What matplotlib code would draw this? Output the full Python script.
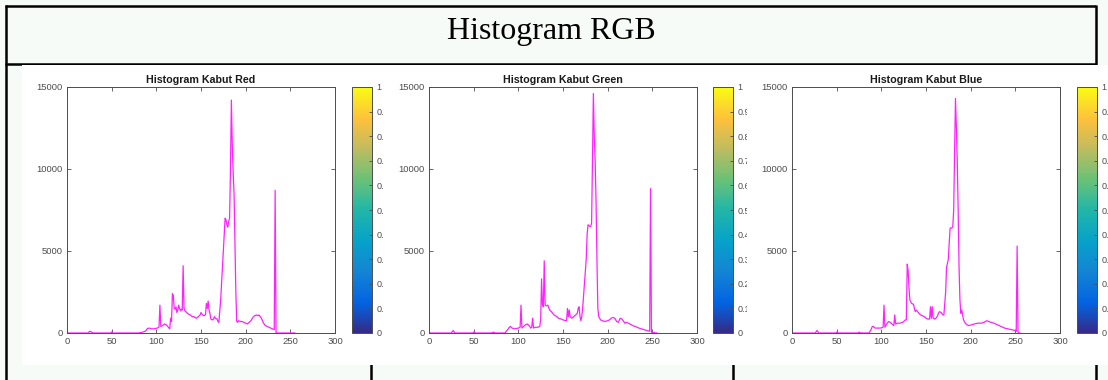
import numpy as np
import matplotlib
matplotlib.use("Agg")
import matplotlib.pyplot as plt
from matplotlib.colors import LinearSegmentedColormap, Normalize
from matplotlib.cm import ScalarMappable
from matplotlib.patches import Rectangle
from matplotlib.lines import Line2D

# histogram values (bin, count)
red_bins = [0, 24, 25, 27, 29, 49, 50, 51, 80, 84, 88, 90, 92, 95, 98, 101, 103, 104, 105, 107, 109, 111, 113, 115,
            116, 117, 118, 119, 120, 121, 122, 123, 124, 125, 126, 127, 128, 129, 130, 131, 132, 134, 136, 138, 140,
            142, 143, 145, 147, 149, 150, 151, 153, 155, 156, 157, 158, 159, 160, 161, 163, 164, 165, 166, 168, 169,
            170, 172, 174, 176, 177, 178, 179, 180, 181, 182, 183, 184, 185, 186, 187, 188, 189, 190, 191, 192, 194,
            196, 198, 200, 202, 204, 206, 208, 210, 212, 214, 215, 217, 218, 220, 222, 224, 226, 228, 230, 232, 233,
            234, 255]
red_counts = [0, 0, 100, 80, 0, 0, 60, 0, 0, 40, 120, 270, 300, 250, 260, 300, 350, 1700, 400, 450, 550, 500, 380, 250,
              900, 700, 2400, 2300, 1500, 1450, 1600, 1250, 1400, 1700, 1500, 1350, 1450, 1400, 4100, 1500, 1350, 1250,
              1150, 1100, 1000, 1000, 950, 900, 1000, 1100, 1250, 1150, 1050, 1100, 1800, 1500, 1950, 1400, 1200, 850,
              800, 850, 1000, 900, 850, 700, 650, 2000, 4000, 6000, 7000, 6900, 6600, 6450, 6800, 7000, 10000, 14200,
              11500, 9800, 8500, 5500, 2500, 700, 650, 750, 700, 700, 650, 600, 550, 650, 750, 950, 1050, 1100, 1050,
              1100, 950, 850, 600, 450, 400, 350, 300, 250, 200, 8700, 0, 0]

green_bins = [0, 25, 27, 29, 49, 50, 52, 70, 72, 74, 85, 88, 90, 91, 93, 96, 100, 102, 103, 104, 106, 108, 110, 112,
              114, 115, 116, 117, 119, 122, 124, 125, 126, 127, 128, 129, 130, 131, 133, 135, 137, 140, 143, 145, 148,
              150, 153, 154, 155, 156, 157, 158, 160, 162, 164, 166, 167, 168, 169, 170, 171, 172, 174, 176, 177, 178,
              180, 181, 182, 183, 184, 185, 186, 187, 188, 189, 190, 192, 194, 197, 200, 202, 204, 206, 208, 210, 212,
              214, 216, 218, 219, 221, 223, 225, 228, 231, 235, 238, 241, 244, 247, 248, 249, 251, 252, 253, 255]
green_counts = [0, 0, 150, 0, 0, 50, 0, 0, 50, 0, 0, 200, 350, 400, 300, 250, 300, 350, 1700, 300, 400, 500, 550, 450,
                300, 350, 900, 300, 350, 350, 400, 800, 3300, 1700, 1600, 4400, 1700, 1650, 1700, 1400, 1300, 1100,
                1000, 900, 850, 800, 750, 750, 1500, 1000, 1400, 1000, 900, 1000, 1100, 1200, 1500, 1600, 1000, 750,
                1000, 1500, 3000, 4500, 6000, 6600, 6500, 6500, 6700, 10500, 14600, 12000, 10500, 8000, 4500, 1500,
                1000, 800, 750, 700, 750, 800, 900, 950, 900, 700, 650, 900, 850, 700, 600, 650, 600, 550, 450, 400,
                300, 250, 200, 150, 100, 8800, 50, 0, 50, 0, 0]

blue_bins = [0, 26, 28, 30, 49, 50, 52, 74, 75, 77, 86, 88, 90, 91, 93, 96, 99, 102, 103, 104, 106, 108, 110, 112, 114,
             115, 116, 118, 121, 124, 126, 127, 128, 129, 130, 131, 132, 134, 136, 137, 138, 139, 140, 142, 144, 146,
             148, 150, 152, 154, 155, 156, 157, 158, 160, 162, 164, 165, 167, 169, 170, 172, 173, 175, 176, 177, 179,
             180, 181, 182, 183, 184, 185, 186, 187, 188, 189, 190, 191, 192, 194, 196, 198, 201, 204, 208, 212, 215,
             218, 220, 223, 226, 230, 234, 238, 242, 246, 250, 251, 252, 253, 254, 255]
blue_counts = [0, 0, 150, 0, 0, 50, 0, 0, 50, 0, 0, 150, 400, 400, 300, 300, 300, 350, 1700, 350, 550, 700, 650, 550,
               450, 1100, 550, 600, 600, 650, 750, 800, 800, 4200, 3800, 2700, 2000, 1800, 1750, 1500, 1300, 1400, 1350,
               1200, 1100, 1050, 1000, 900, 850, 850, 1600, 900, 1600, 900, 850, 950, 1200, 1300, 1250, 1100, 1100,
               2500, 4000, 4500, 5500, 6400, 6400, 6500, 7500, 11000, 14300, 12500, 10500, 7500, 4000, 2000, 1200,
               1400, 1100, 800, 600, 500, 450, 500, 550, 600, 600, 650, 750, 700, 650, 600, 500, 400, 300, 250, 200,
               150, 100, 5300, 50, 0, 0]

titles = ["Histogram Kabut Red", "Histogram Kabut Green", "Histogram Kabut Blue"]
series = [(red_bins, red_counts), (green_bins, green_counts), (blue_bins, blue_counts)]
x_ticks = [0, 50, 100, 150, 200, 250, 300]
y_ticks = [0, 5000, 10000, 15000]
cbar_ticks = [0, 0.1, 0.2, 0.3, 0.4, 0.5, 0.6, 0.7, 0.8, 0.9, 1]

parula = LinearSegmentedColormap.from_list("parula", [
    (0.00, (0.208, 0.166, 0.529)),
    (0.12, (0.012, 0.388, 0.882)),
    (0.25, (0.078, 0.522, 0.831)),
    (0.37, (0.024, 0.631, 0.792)),
    (0.50, (0.133, 0.714, 0.658)),
    (0.62, (0.404, 0.758, 0.471)),
    (0.75, (0.749, 0.737, 0.376)),
    (0.87, (0.996, 0.753, 0.235)),
    (1.00, (0.976, 0.984, 0.081)),
])

W, H = 1108, 380
fig = plt.figure(figsize=(W / 100, H / 100), dpi=100)
fig.patch.set_facecolor("#f7fbf7")


def fx(x):
    return x / W


def fy(y):
    return 1 - y / H


# table lines
tbl = dict(color="black", lw=1.8, zorder=0.5, solid_capstyle="butt")
fig.add_artist(Line2D([fx(5), fx(1096)], [fy(6), fy(6)], **tbl))
fig.add_artist(Line2D([fx(5), fx(1096)], [fy(64), fy(64)], **tbl))
fig.add_artist(Line2D([fx(6), fx(6)], [fy(5), fy(380)], **tbl))
fig.add_artist(Line2D([fx(1096), fx(1096)], [fy(5), fy(380)], **tbl))
fig.add_artist(Line2D([fx(371), fx(371)], [fy(64), fy(380)], **tbl))
fig.add_artist(Line2D([fx(733), fx(733)], [fy(64), fy(380)], **tbl))

fig.text(fx(551), fy(31), "Histogram RGB", ha="center", va="center",
         family="Liberation Serif", fontsize=23, color="black")

panel_left = [22, 383, 747]
panel_right = [383, 747, 1108]
ax_left = [67, 429, 792]
cb_left = [352, 713, 1077]
gray = "#4d4d4d"
z = 1
for i in range(3):
    bg = Rectangle((fx(panel_left[i]), fy(365)), fx(panel_right[i] - panel_left[i]), (365 - 65) / H,
                   transform=fig.transFigure, facecolor="white", edgecolor="none", zorder=z)
    fig.add_artist(bg)
    z += 1

    ax = fig.add_axes([fx(ax_left[i]), fy(333), fx(268), (333 - 87) / H])
    ax.set_zorder(z)
    bins, counts = series[i]
    ax.plot(bins, counts, color="#ff22ff", lw=0.9)
    ax.set_xlim(0, 300)
    ax.set_ylim(0, 15000)
    ax.set_xticks(x_ticks)
    ax.set_yticks(y_ticks)
    ax.tick_params(direction="in", length=3, width=0.6, colors=gray, labelsize=6.8,
                   top=True, right=True, pad=3)
    for s in ax.spines.values():
        s.set_color(gray)
        s.set_linewidth(0.7)
    ax.set_title(titles[i], fontsize=7.7, fontweight="bold", color="#1a1a1a", pad=3,
                 family="Liberation Sans")
    for lab in ax.get_xticklabels() + ax.get_yticklabels():
        lab.set_family("Liberation Sans")

    cax = fig.add_axes([fx(cb_left[i]), fy(333), fx(20), (333 - 87) / H])
    cax.set_zorder(z)
    cb = fig.colorbar(ScalarMappable(norm=Normalize(0, 1), cmap=parula), cax=cax, ticks=cbar_ticks)
    cb.ax.set_yticklabels([f"{t:g}" for t in cbar_ticks])
    cb.ax.tick_params(direction="in", length=2.5, width=0.6, colors=gray, labelsize=6.5, pad=3)
    cb.outline.set_edgecolor(gray)
    cb.outline.set_linewidth(0.7)
    for lab in cb.ax.get_yticklabels():
        lab.set_family("Liberation Sans")
    z += 1

fig.savefig("out.png", dpi=100, facecolor=fig.get_facecolor())
